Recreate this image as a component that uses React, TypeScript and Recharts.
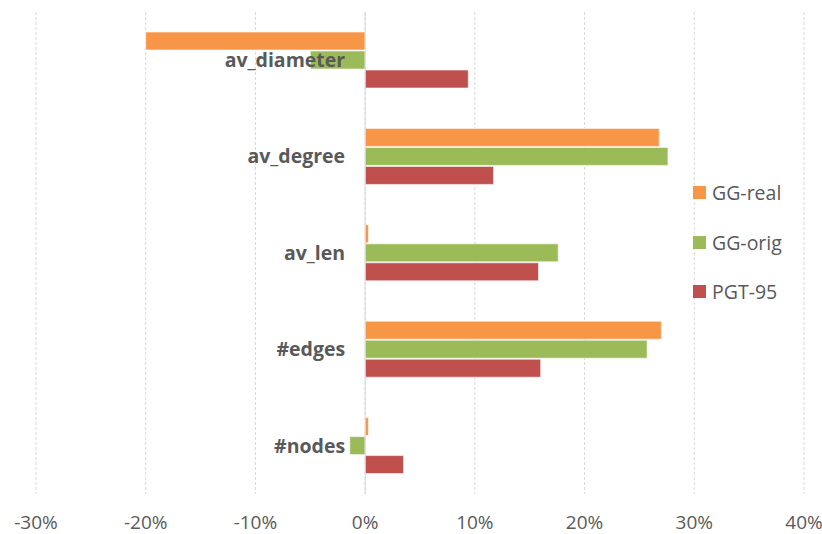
import React from "react";
import {
  BarChart,
  Bar,
  XAxis,
  YAxis,
  CartesianGrid,
  ReferenceLine,
} from "recharts";

// relative change per graph metric, in percent
const categories = ["av_diameter", "av_degree", "av_len", "#edges", "#nodes"];
const ggReal = [-20.0, 26.8, 0.3, 27.0, 0.3];
const ggOrig = [-5.0, 27.6, 17.6, 25.7, -1.4];
const pgt95 = [9.4, 11.7, 15.8, 16.0, 3.5];

const xTicks = [-30, -20, -10, 0, 10, 20, 30, 40];
const seriesKeys = ["ggReal", "ggOrig", "pgt95"];
const seriesNames = ["GG-real", "GG-orig", "PGT-95"];
const seriesColors = ["#F79646", "#9BBB59", "#C0504D"];

const WIDTH = 822;
const HEIGHT = 534;
const Y_AXIS_W = 36;
const MARGIN = { top: 12, right: 18, left: 0, bottom: 0 };
const X_MIN = -30;
const X_MAX = 40;
const FONT = "'Open Sans', Lato, sans-serif";
const TEXT = "#595959";

const data = categories.map((name, i) => ({
  name,
  ggReal: ggReal[i],
  ggOrig: ggOrig[i],
  pgt95: pgt95[i],
}));

// category labels sit just left of the zero line, not at the plot edge
const plotLeft = MARGIN.left + Y_AXIS_W;
const plotWidth = WIDTH - plotLeft - MARGIN.right;
const zeroX = plotLeft + (plotWidth * (0 - X_MIN)) / (X_MAX - X_MIN);

const CategoryTick = (props: any) => {
  const { y, payload } = props;
  return (
    <text
      x={zeroX - 20}
      y={y}
      dy="0.35em"
      textAnchor="end"
      fontSize={19.5}
      fontWeight="bold"
      fill={TEXT}
      fontFamily={FONT}
    >
      {payload.value}
    </text>
  );
};

// legend floats over the right side of the plot
const LegendBox = () => (
  <div
    style={{
      position: "absolute",
      left: 693,
      top: 168,
      fontFamily: FONT,
      color: TEXT,
      fontSize: 19.5,
    }}
  >
    {seriesNames.map((name, i) => (
      <div
        key={name}
        style={{ display: "flex", alignItems: "center", height: 49.5 }}
      >
        <span
          style={{
            display: "inline-block",
            width: 13,
            height: 13,
            background: seriesColors[i],
            marginRight: 6,
          }}
        />
        {name}
      </div>
    ))}
  </div>
);

export default function App() {
  return (
    <div style={{ position: "absolute", left: 0, top: 0, background: "#fff" }}>
      <BarChart
        width={WIDTH}
        height={HEIGHT}
        data={data}
        layout="vertical"
        margin={MARGIN}
        barSize={18}
        barGap={1}
        style={{ fontFamily: FONT }}
      >
        <CartesianGrid
          horizontal={false}
          strokeDasharray="3 2"
          stroke="#d9d9d9"
        />
        <XAxis
          type="number"
          domain={[X_MIN, X_MAX]}
          ticks={xTicks}
          tickFormatter={(v: number) => `${v}%`}
          axisLine={false}
          tickLine={false}
          tickSize={0}
          tickMargin={22}
          height={40}
          tick={{ fill: TEXT, fontSize: 19, fontFamily: FONT }}
        />
        <YAxis
          type="category"
          dataKey="name"
          width={Y_AXIS_W}
          axisLine={false}
          tickLine={false}
          tick={<CategoryTick />}
        />
        <ReferenceLine x={0} stroke="#d9d9d9" strokeWidth={1} />
        {seriesKeys.map((key, i) => (
          <Bar
            key={key}
            dataKey={key}
            name={seriesNames[i]}
            fill={seriesColors[i]}
            stroke="#ffffff"
            strokeWidth={0.6}
            isAnimationActive={false}
          />
        ))}
      </BarChart>
      <LegendBox />
    </div>
  );
}
